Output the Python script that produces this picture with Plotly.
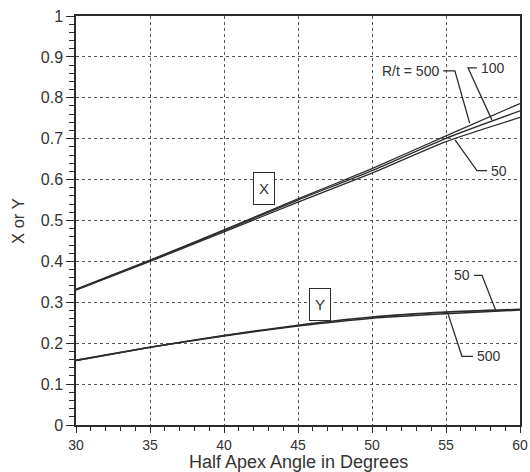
import plotly.graph_objects as go

# ---- data ----
angles = [30, 35, 40, 45, 50, 55, 60]
X_500 = [0.332, 0.403, 0.477, 0.553, 0.627, 0.707, 0.786]
X_100 = [0.331, 0.402, 0.475, 0.550, 0.622, 0.701, 0.768]
X_50 = [0.330, 0.400, 0.472, 0.545, 0.616, 0.693, 0.752]
Y_50 = [0.158, 0.190, 0.219, 0.244, 0.264, 0.276, 0.283]
Y_500 = [0.158, 0.190, 0.218, 0.242, 0.261, 0.272, 0.281]

x_ticks = [30, 35, 40, 45, 50, 55, 60]
y_ticks = [0, 0.1, 0.2, 0.3, 0.4, 0.5, 0.6, 0.7, 0.8, 0.9, 1]
y_tick_text = ["0", "0.1", "0.2", "0.3", "0.4", "0.5", "0.6", "0.7", "0.8", "0.9", "1"]

FONT = "Arial, Liberation Sans, sans-serif"
INK = "#333333"
LINE = "#2b2b2b"

fig = go.Figure()
for ys in (X_500, X_100, X_50):
    fig.add_trace(go.Scatter(x=angles, y=ys, mode="lines", line=dict(color=LINE, width=1.3, shape="spline", smoothing=0.6), hoverinfo="skip"))
for ys in (Y_50, Y_500):
    fig.add_trace(go.Scatter(x=angles, y=ys, mode="lines", line=dict(color=LINE, width=1.6, shape="spline", smoothing=0.6), hoverinfo="skip"))

# leader lines (label callouts)
leaders = [
    [(54.8, 0.866), (55.6, 0.866), (56.6, 0.738)],   # R/t = 500
    [(57.09, 0.873), (56.49, 0.873), (58.1, 0.746)],  # 100
    [(57.77, 0.622), (57.09, 0.622), (55.61, 0.697)], # 50 (X)
    [(56.89, 0.366), (57.43, 0.366), (58.38, 0.279)], # 50 (Y)
    [(56.82, 0.168), (56.08, 0.168), (55.14, 0.271)], # 500 (Y)
]
for pts in leaders:
    path = "M " + " L ".join(f"{px},{py}" for px, py in pts)
    fig.add_shape(type="path", path=path, xref="x", yref="y", line=dict(color=LINE, width=1.3))

labels = [
    ("R/t = 500", 54.65, 0.866, "right"),
    ("100", 57.2, 0.873, "left"),
    ("50", 57.9, 0.622, "left"),
    ("50", 56.75, 0.366, "right"),
    ("500", 56.95, 0.168, "left"),
]
for txt, ax_, ay_, anc in labels:
    fig.add_annotation(x=ax_, y=ay_, text=txt, showarrow=False, xanchor=anc, yanchor="middle",
                       font=dict(family=FONT, size=14, color=INK))

for txt, bx, by in (("X", 42.7, 0.579), ("Y", 46.5, 0.294)):
    fig.add_annotation(x=bx, y=by, text=txt, showarrow=False, xanchor="center", yanchor="middle",
                       width=20, height=31, bordercolor=LINE, borderwidth=1, borderpad=0,
                       bgcolor="white", font=dict(family=FONT, size=15, color=INK))

# axis titles
fig.add_annotation(x=0.5, y=-0.091, xref="paper", yref="paper", text="Half Apex Angle in Degrees",
                   showarrow=False, xanchor="center", yanchor="middle", borderpad=0,
                   font=dict(family=FONT, size=18, color=INK))
fig.add_annotation(x=-0.132, y=0.5, xref="paper", yref="paper", text="X or Y", textangle=-90,
                   showarrow=False, xanchor="center", yanchor="middle", font=dict(family=FONT, size=16.5, color=INK))

fig.update_layout(
    width=530, height=472,
    margin=dict(l=76, r=10, t=16, b=47),
    paper_bgcolor="white", plot_bgcolor="white",
    showlegend=False,
    font=dict(family=FONT, color=INK),
)
fig.update_xaxes(range=[30, 60], tickvals=x_ticks, ticks="outside", ticklen=6, tickwidth=1.3,
                 tickcolor=LINE, showline=True, linecolor=LINE, linewidth=1.5, mirror=True,
                 showgrid=True, gridcolor="#555555", griddash="dot", gridwidth=1.3, automargin=False,
                 tickfont=dict(family=FONT, size=14, color=INK), zeroline=False,
                 minor=dict(dtick=1, ticks="outside", ticklen=4, tickcolor=LINE, showgrid=False))
fig.update_yaxes(range=[0, 1], tickvals=y_ticks, ticktext=y_tick_text, ticks="outside", ticklen=8, tickwidth=1.3,
                 tickcolor=LINE, showline=True, linecolor=LINE, linewidth=1.5, mirror=True,
                 showgrid=True, gridcolor="#555555", griddash="dot", gridwidth=1.3, automargin=False,
                 tickfont=dict(family=FONT, size=16, color=INK), zeroline=False,
                 minor=dict(dtick=0.02, ticks="outside", ticklen=5, tickcolor=LINE, showgrid=False))

fig.write_html("out.html", config={"displayModeBar": False},
               post_script="document.body.style.margin='0';")
